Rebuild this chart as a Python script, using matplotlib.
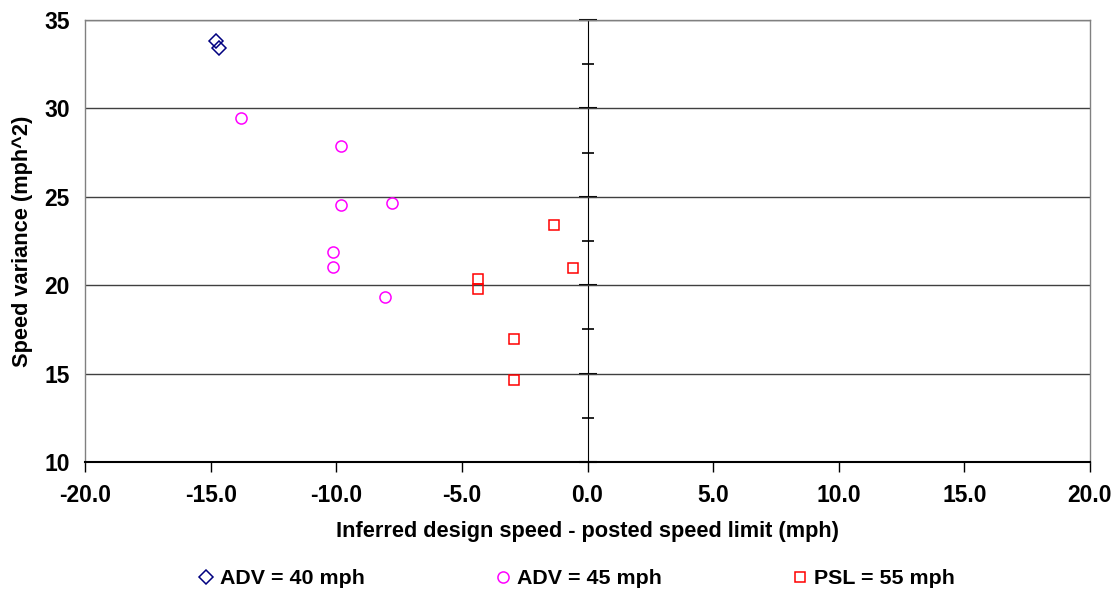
import numpy as np
import matplotlib.pyplot as plt
from matplotlib.ticker import MultipleLocator, FormatStrFormatter

plt.rcParams['font.family'] = ['Liberation Sans', 'DejaVu Sans']
plt.rcParams['font.weight'] = 'bold'

# ADV = 40 mph
adv40_x = [-14.80, -14.67]
adv40_y = [33.83, 33.42]
# ADV = 45 mph
adv45_x = [-13.79, -9.81, -9.81, -7.78, -10.13, -10.13, -8.06]
adv45_y = [29.46, 27.86, 24.54, 24.65, 21.86, 21.03, 19.36]
# PSL = 55 mph
psl55_x = [-1.32, -0.57, -4.37, -4.37, -2.94, -2.94]
psl55_y = [23.39, 20.97, 20.37, 19.77, 16.94, 14.66]

fig = plt.figure(figsize=(11.16, 5.9), dpi=100)
ax = fig.add_axes([85/1116, 128/590, 1005/1116, 442/590])

h1, = ax.plot(adv40_x, adv40_y, 'D', ms=7.3, mfc='none', mec='#000080', mew=1.1,
              linestyle='none', label='ADV = 40 mph')
h2, = ax.plot(adv45_x, adv45_y, 'o', ms=8, mfc='none', mec='#FF00FF', mew=1.1,
              linestyle='none', label='ADV = 45 mph')
h3, = ax.plot(psl55_x, psl55_y, 's', ms=7.5, mfc='none', mec='#FF0000', mew=1.1,
              linestyle='none', label='PSL = 55 mph')

ax.set_xlim(-20, 20)
ax.set_ylim(10, 35)

ax.xaxis.set_major_locator(MultipleLocator(5))
ax.xaxis.set_major_formatter(FormatStrFormatter('%.1f'))
ax.yaxis.set_major_locator(MultipleLocator(5))

ax.yaxis.grid(True, color='#404040', lw=1)
ax.set_axisbelow(True)

for side in ['left', 'right', 'top']:
    ax.spines[side].set_color('#808080')
    ax.spines[side].set_linewidth(1)
ax.spines['bottom'].set_color('black')
ax.spines['bottom'].set_linewidth(1.5)

ax.tick_params(axis='x', direction='out', length=7, width=1, pad=9, labelsize=16.5)
ax.tick_params(axis='y', length=0, pad=11, labelsize=16.5)

# vertical axis crossing at x = 0 with major/minor ticks
sec = ax.secondary_yaxis(0.5)
sec.yaxis.set_major_locator(MultipleLocator(5))
sec.yaxis.set_minor_locator(MultipleLocator(2.5))
sec.tick_params(which='major', direction='inout', length=13, width=1.5, labelleft=False)
sec.tick_params(which='minor', direction='inout', length=9, width=1.2)
sec.spines['left'].set_color('#606060')
sec.spines['left'].set_linewidth(1.5)
sec.set_yticklabels([])

ax.set_xlabel('Inferred design speed - posted speed limit (mph)', fontsize=15.7,
              fontweight='bold', labelpad=10)
ax.set_ylabel('Speed variance (mph^2)', fontsize=15.7, fontweight='bold', labelpad=8)

# legend entries placed individually in equal-width columns
for h, xpos in [(h1, 195), (h2, 492), (h3, 789)]:
    fig.legend(handles=[h], loc='center left', bbox_to_anchor=(xpos/1116, 11/590),
               frameon=False, handletextpad=0.15, handlelength=1.0, borderpad=0,
               borderaxespad=0, prop={'weight': 'bold', 'size': 15.4})

fig.savefig('out.png', dpi=100)
